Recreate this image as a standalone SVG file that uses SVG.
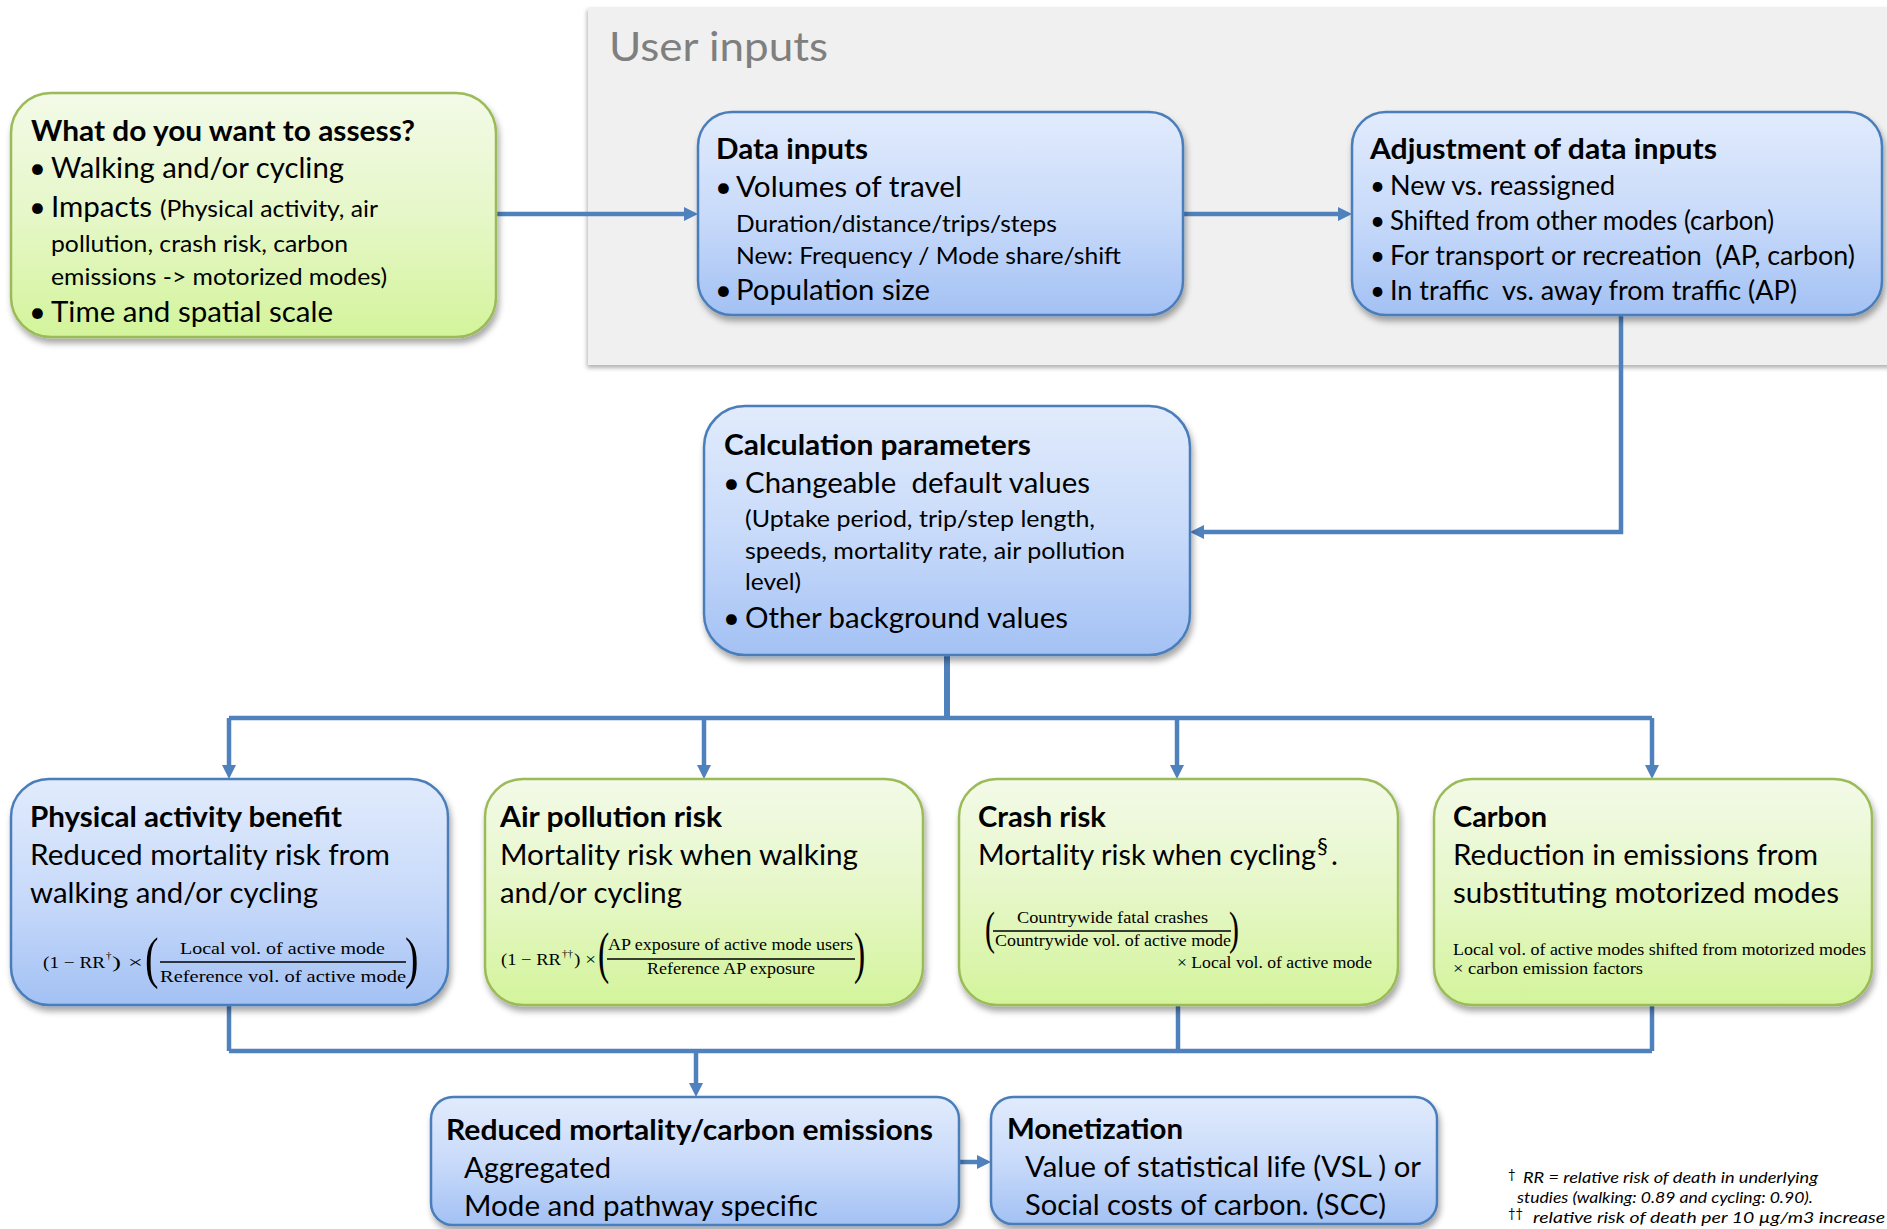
<svg xmlns="http://www.w3.org/2000/svg" width="1887" height="1229" viewBox="0 0 1887 1229">
<defs>
<linearGradient id="gBlue" x1="0" y1="0" x2="0" y2="1"><stop offset="0" stop-color="#e1ebfc"/><stop offset="0.5" stop-color="#c9dbfa"/><stop offset="1" stop-color="#a3c1f4"/></linearGradient>
<linearGradient id="gGreen" x1="0" y1="0" x2="0" y2="1"><stop offset="0" stop-color="#f3fae8"/><stop offset="0.5" stop-color="#e6f7c8"/><stop offset="1" stop-color="#d3f49b"/></linearGradient>
<filter id="sh" x="-10%" y="-10%" width="120%" height="130%"><feDropShadow dx="2" dy="5" stdDeviation="3" flood-color="#000" flood-opacity="0.35"/></filter>
<filter id="shPanel" x="-5%" y="-5%" width="110%" height="115%"><feDropShadow dx="-1" dy="3" stdDeviation="2" flood-color="#000" flood-opacity="0.3"/></filter>
<marker id="arr" viewBox="0 0 14 14" markerWidth="14" markerHeight="14" refX="2" refY="7" orient="auto" markerUnits="userSpaceOnUse"><path d="M0,0 L14,7 L0,14 Z" fill="#4f81bd"/></marker>
<style>
.blue{fill:url(#gBlue);stroke:#4a7ebb;stroke-width:2.5;filter:url(#sh)}
.green{fill:url(#gGreen);stroke:#9bbb59;stroke-width:2.5;filter:url(#sh)}
text{font-family:Lato,"Open Sans","Liberation Sans",sans-serif;fill:#000}
.t{font-weight:bold;font-size:29px}
.b{font-size:29px}
.m{font-size:26px}
.s{font-size:24px}
.f{font-family:"Liberation Serif","DejaVu Serif",serif;font-size:17px}
.fs{font-family:"Liberation Serif","DejaVu Serif",serif;font-size:11px}
.p{font-family:"Liberation Serif","DejaVu Serif",serif;font-weight:normal}
.fn{font-style:italic;font-size:15px}
.con{fill:none;stroke:#4f81bd;stroke-width:4.5}
.frac{stroke:#000;stroke-width:1.3}
</style>
</defs>
<rect width="1887" height="1229" fill="#ffffff"/>

<g id="panelUserInputs">
<rect x="588" y="7" width="1320" height="358" fill="#f0f0f0" filter="url(#shPanel)"/>
<text x="609" y="61" style="font-size:40px;fill:#7f7f7f" textLength="219" lengthAdjust="spacingAndGlyphs">User inputs</text>
</g>

<g id="connectors">
<path class="con" d="M496,214 H686" marker-end="url(#arr)"/>
<path class="con" d="M1183,214 H1340" marker-end="url(#arr)"/>
<path class="con" d="M1621,315 V532 H1202" marker-end="url(#arr)"/>
<path class="con" d="M947,655 V718" style="stroke-width:6"/>
<path class="con" d="M229,718 H1652"/>
<path class="con" d="M229,718 V767" marker-end="url(#arr)"/>
<path class="con" d="M704,718 V767" marker-end="url(#arr)"/>
<path class="con" d="M1177,718 V767" marker-end="url(#arr)"/>
<path class="con" d="M1652,718 V767" marker-end="url(#arr)"/>
<path class="con" d="M229,1005 V1051"/>
<path class="con" d="M1178,1005 V1051"/>
<path class="con" d="M1652,1005 V1051"/>
<path class="con" d="M229,1051 H1652"/>
<path class="con" d="M696,1051 V1085" marker-end="url(#arr)"/>
<path class="con" d="M959,1162 H979" marker-end="url(#arr)"/>
</g>

<g id="nodeAssess">
<rect class="green" x="11" y="93" width="485" height="244" rx="40"/>
<text class="t" x="31" y="141" textLength="384" lengthAdjust="spacingAndGlyphs">What do you want to assess?</text>
<text class="b" x="29" y="178">•</text>
<text class="b" x="51" y="178" textLength="293" lengthAdjust="spacingAndGlyphs">Walking and/or cycling</text>
<text class="b" x="29" y="217">•</text>
<text class="b" x="51" y="217" textLength="101" lengthAdjust="spacingAndGlyphs">Impacts</text>
<text class="s" x="160" y="217" textLength="218" lengthAdjust="spacingAndGlyphs">(Physical activity, air</text>
<text class="s" x="51" y="252" textLength="297" lengthAdjust="spacingAndGlyphs">pollution, crash risk, carbon</text>
<text class="s" x="51" y="285" textLength="336" lengthAdjust="spacingAndGlyphs">emissions -&gt; motorized modes)</text>
<text class="b" x="29" y="322">•</text>
<text class="b" x="51" y="322" textLength="282" lengthAdjust="spacingAndGlyphs">Time and spatial scale</text>
</g>

<g id="nodeDataInputs">
<rect class="blue" x="698" y="112" width="485" height="203" rx="34"/>
<text class="t" x="716" y="159" textLength="152" lengthAdjust="spacingAndGlyphs">Data inputs</text>
<text class="b" x="715" y="197">•</text>
<text class="b" x="736" y="197" textLength="226" lengthAdjust="spacingAndGlyphs">Volumes of travel</text>
<text class="s" x="736" y="232" textLength="321" lengthAdjust="spacingAndGlyphs">Duration/distance/trips/steps</text>
<text class="s" x="736" y="264" textLength="385" lengthAdjust="spacingAndGlyphs">New: Frequency / Mode share/shift</text>
<text class="b" x="715" y="300">•</text>
<text class="b" x="736" y="300" textLength="194" lengthAdjust="spacingAndGlyphs">Population size</text>
</g>

<g id="nodeAdjustment">
<rect class="blue" x="1352" y="112" width="530" height="203" rx="34"/>
<text class="t" x="1370" y="159" textLength="347" lengthAdjust="spacingAndGlyphs">Adjustment of data inputs</text>
<text class="m" x="1370" y="195">•</text>
<text class="m" x="1390" y="195" textLength="225" lengthAdjust="spacingAndGlyphs">New vs. reassigned</text>
<text class="m" x="1370" y="230">•</text>
<text class="m" x="1390" y="230" textLength="384" lengthAdjust="spacingAndGlyphs">Shifted from other modes (carbon)</text>
<text class="m" x="1370" y="265">•</text>
<text class="m" x="1390" y="265" textLength="465" lengthAdjust="spacingAndGlyphs">For transport or recreation &#160;(AP, carbon)</text>
<text class="m" x="1370" y="300">•</text>
<text class="m" x="1390" y="300" textLength="407" lengthAdjust="spacingAndGlyphs">In traffic &#160;vs. away from traffic (AP)</text>
</g>

<g id="nodeCalculation">
<rect class="blue" x="704" y="406" width="486" height="249" rx="41"/>
<text class="t" x="724" y="455" textLength="307" lengthAdjust="spacingAndGlyphs">Calculation parameters</text>
<text class="b" x="723" y="493">•</text>
<text class="b" x="745" y="493" textLength="345" lengthAdjust="spacingAndGlyphs">Changeable &#160;default values</text>
<text class="s" x="745" y="527" textLength="350" lengthAdjust="spacingAndGlyphs">(Uptake period, trip/step length,</text>
<text class="s" x="745" y="559" textLength="380" lengthAdjust="spacingAndGlyphs">speeds, mortality rate, air pollution</text>
<text class="s" x="745" y="590" textLength="56" lengthAdjust="spacingAndGlyphs">level)</text>
<text class="b" x="723" y="628">•</text>
<text class="b" x="745" y="628" textLength="323" lengthAdjust="spacingAndGlyphs">Other background values</text>
</g>

<g id="nodePhysicalActivity">
<rect class="blue" x="11" y="779" width="437" height="226" rx="38"/>
<text class="t" x="30" y="827" textLength="312" lengthAdjust="spacingAndGlyphs">Physical activity benefit</text>
<text class="b" x="30" y="865" textLength="360" lengthAdjust="spacingAndGlyphs">Reduced mortality risk from</text>
<text class="b" x="30" y="903" textLength="288" lengthAdjust="spacingAndGlyphs">walking and/or cycling</text>
<text class="f" x="43" y="968" textLength="62" lengthAdjust="spacingAndGlyphs">(1 − RR</text>
<text class="fs" x="106" y="959">†</text>
<text class="f" x="112" y="968" textLength="31" lengthAdjust="spacingAndGlyphs">) ×</text>
<text class="p" x="145" y="977" style="font-size:58px" transform="translate(145,977) scale(0.7,1) translate(-145,-977)">(</text>
<text class="f" x="180" y="954" textLength="205" lengthAdjust="spacingAndGlyphs">Local vol. of active mode</text>
<line class="frac" x1="160" y1="962" x2="406" y2="962"/>
<text class="f" x="160" y="982" textLength="246" lengthAdjust="spacingAndGlyphs">Reference vol. of active mode</text>
<text class="p" x="405" y="977" style="font-size:58px" transform="translate(405,977) scale(0.7,1) translate(-405,-977)">)</text>
</g>

<g id="nodeAirPollution">
<rect class="green" x="485" y="779" width="438" height="226" rx="38"/>
<text class="t" x="500" y="827" textLength="222" lengthAdjust="spacingAndGlyphs">Air pollution risk</text>
<text class="b" x="500" y="865" textLength="358" lengthAdjust="spacingAndGlyphs">Mortality risk when walking</text>
<text class="b" x="500" y="903" textLength="182" lengthAdjust="spacingAndGlyphs">and/or cycling</text>
<text class="f" x="501" y="965" style="font-size:16px" textLength="60" lengthAdjust="spacingAndGlyphs">(1 − RR</text>
<text class="fs" x="562" y="957" style="font-size:10px" textLength="11" lengthAdjust="spacingAndGlyphs">††</text>
<text class="f" x="574" y="965" style="font-size:16px" textLength="22" lengthAdjust="spacingAndGlyphs">) ×</text>
<text class="p" x="598" y="972" style="font-size:56px" transform="translate(598,972) scale(0.6,1) translate(-598,-972)">(</text>
<text class="f" x="608" y="950" textLength="245" lengthAdjust="spacingAndGlyphs">AP exposure of active mode users</text>
<line class="frac" x1="607" y1="959" x2="855" y2="959"/>
<text class="f" x="647" y="974" textLength="168" lengthAdjust="spacingAndGlyphs">Reference AP exposure</text>
<text class="p" x="854" y="972" style="font-size:56px" transform="translate(854,972) scale(0.6,1) translate(-854,-972)">)</text>
</g>

<g id="nodeCrash">
<rect class="green" x="959" y="779" width="439" height="226" rx="38"/>
<text class="t" x="978" y="827" textLength="128" lengthAdjust="spacingAndGlyphs">Crash risk</text>
<text class="b" x="978" y="865" textLength="338" lengthAdjust="spacingAndGlyphs">Mortality risk when cycling</text>
<text class="b" x="1317" y="853" style="font-size:22px">§</text>
<text class="b" x="1331" y="865">.</text>
<text class="p" x="985" y="944" style="font-size:46px" transform="translate(985,944) scale(0.65,1) translate(-985,-944)">(</text>
<text class="f" x="1017" y="923" textLength="191" lengthAdjust="spacingAndGlyphs">Countrywide fatal crashes</text>
<line class="frac" x1="993" y1="931" x2="1231" y2="931"/>
<text class="f" x="995" y="946" textLength="236" lengthAdjust="spacingAndGlyphs">Countrywide vol. of active mode</text>
<text class="p" x="1229" y="944" style="font-size:46px" transform="translate(1229,944) scale(0.65,1) translate(-1229,-944)">)</text>
<text class="f" x="1177" y="968" textLength="195" lengthAdjust="spacingAndGlyphs">× Local vol. of active mode</text>
</g>

<g id="nodeCarbon">
<rect class="green" x="1434" y="779" width="438" height="226" rx="38"/>
<text class="t" x="1453" y="827" textLength="94" lengthAdjust="spacingAndGlyphs">Carbon</text>
<text class="b" x="1453" y="865" textLength="365" lengthAdjust="spacingAndGlyphs">Reduction in emissions from</text>
<text class="b" x="1453" y="903" textLength="386" lengthAdjust="spacingAndGlyphs">substituting motorized modes</text>
<text class="f" x="1453" y="955" textLength="413" lengthAdjust="spacingAndGlyphs">Local vol. of active modes shifted from motorized modes</text>
<text class="f" x="1453" y="974" textLength="190" lengthAdjust="spacingAndGlyphs">× carbon emission factors</text>
</g>

<g id="nodeReduced">
<rect class="blue" x="431" y="1097" width="528" height="128" rx="22"/>
<text class="t" x="446" y="1140" textLength="487" lengthAdjust="spacingAndGlyphs">Reduced mortality/carbon emissions</text>
<text class="b" x="464" y="1178" textLength="147" lengthAdjust="spacingAndGlyphs">Aggregated</text>
<text class="b" x="464" y="1216" textLength="354" lengthAdjust="spacingAndGlyphs">Mode and pathway specific</text>
</g>

<g id="nodeMonetization">
<rect class="blue" x="991" y="1097" width="446" height="127" rx="22"/>
<text class="t" x="1007" y="1139" textLength="176" lengthAdjust="spacingAndGlyphs">Monetization</text>
<text class="b" x="1025" y="1177" textLength="396" lengthAdjust="spacingAndGlyphs">Value of statistical life (VSL ) or</text>
<text class="b" x="1025" y="1215" textLength="361" lengthAdjust="spacingAndGlyphs">Social costs of carbon. (SCC)</text>
</g>

<g id="footnotes">
<text x="1508" y="1179" style="font-size:13px">†</text>
<text class="fn" x="1523" y="1183" textLength="295" lengthAdjust="spacingAndGlyphs">RR = relative risk of death in underlying</text>
<text class="fn" x="1517" y="1203" textLength="296" lengthAdjust="spacingAndGlyphs">studies (walking: 0.89 and cycling: 0.90).</text>
<text x="1508" y="1218" style="font-size:13px">††</text>
<text class="fn" x="1533" y="1223" textLength="352" lengthAdjust="spacingAndGlyphs">relative risk of death per 10 µg/m3 increase</text>
</g>
</svg>
